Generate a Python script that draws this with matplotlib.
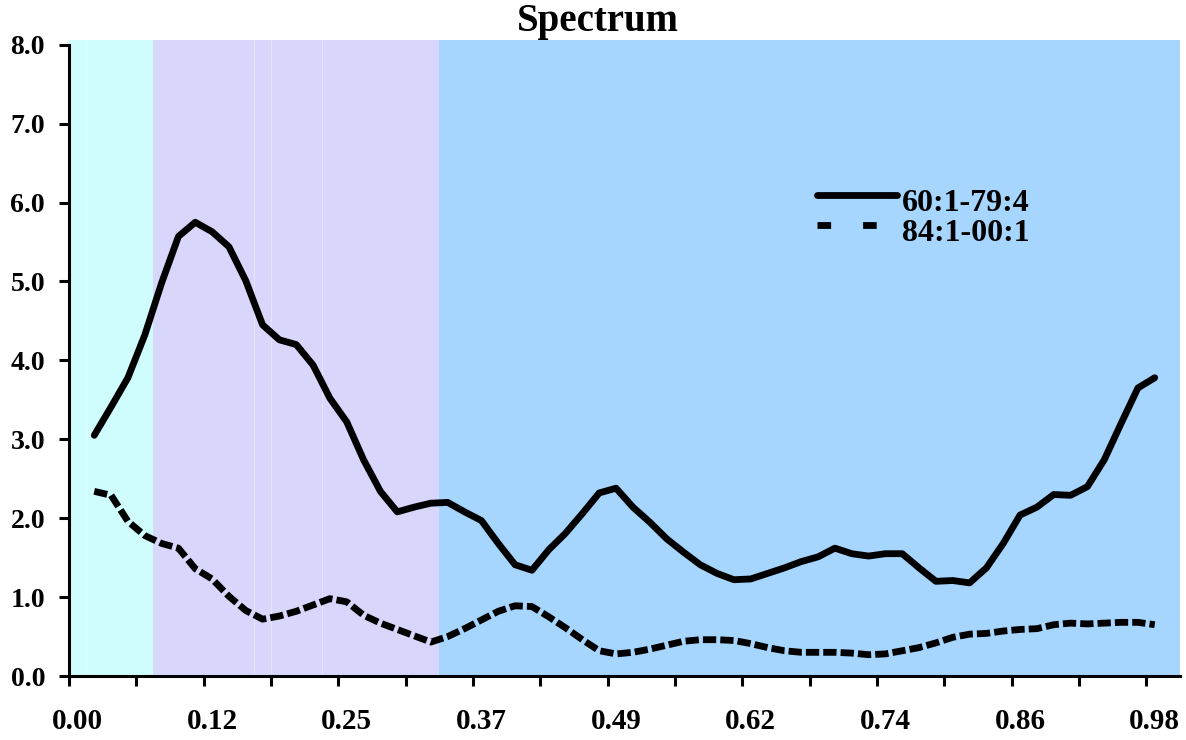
import matplotlib
matplotlib.use("Agg")
import numpy as np
import matplotlib.pyplot as plt
from matplotlib.lines import Line2D

# categories 0..65 on the axis, data present for 1..64
n_cats = 66
cats = list(range(1, 65))

series_a = [3.05, 3.41, 3.78, 4.32, 4.98, 5.57, 5.75, 5.63, 5.44, 5.01,
            4.45, 4.26, 4.20, 3.94, 3.52, 3.22, 2.74, 2.34, 2.08, 2.14,
            2.19, 2.20, 2.08, 1.97, 1.68, 1.41, 1.34, 1.60, 1.81, 2.06,
            2.32, 2.38, 2.14, 1.95, 1.74, 1.57, 1.41, 1.30, 1.22, 1.23,
            1.30, 1.37, 1.45, 1.51, 1.62, 1.55, 1.52, 1.55, 1.55, 1.37,
            1.20, 1.21, 1.18, 1.37, 1.68, 2.04, 2.14, 2.30, 2.29, 2.40,
            2.74, 3.20, 3.65, 3.78]
series_b = [2.34, 2.29, 1.96, 1.78, 1.68, 1.62, 1.36, 1.23, 1.01, 0.83,
            0.72, 0.76, 0.82, 0.90, 0.98, 0.94, 0.77, 0.67, 0.59, 0.51,
            0.43, 0.50, 0.60, 0.71, 0.82, 0.89, 0.88, 0.75, 0.61, 0.46,
            0.32, 0.28, 0.30, 0.34, 0.39, 0.44, 0.46, 0.46, 0.45, 0.41,
            0.36, 0.32, 0.30, 0.30, 0.30, 0.29, 0.27, 0.28, 0.32, 0.36,
            0.42, 0.49, 0.53, 0.54, 0.57, 0.59, 0.60, 0.65, 0.67, 0.66,
            0.67, 0.68, 0.68, 0.65]
names = ["60:1-79:4", "84:1-00:1"]

# background bands (category ranges)
band_start = [0, 5, 22]
band_end = [5, 22, 66]
band_colors = ["#CFFCFC", "#D8D6FB", "#A6D5FE"]
# faint light seams between some background cells
seam_cats = [1, 11, 12, 15]

label_cats = [0, 8, 16, 24, 32, 40, 48, 56, 64]
label_text = ["0.00", "0.12", "0.25", "0.37", "0.49", "0.62", "0.74", "0.86", "0.98"]
y_ticks = [0, 1, 2, 3, 4, 5, 6, 7, 8]

font = "Liberation Serif"

fig = plt.figure(figsize=(11.86, 7.4), dpi=100)
ax = fig.add_axes([69 / 1186, 64 / 740, 1111 / 1186, 636 / 740])

for s, e, c in zip(band_start, band_end, band_colors):
    ax.axvspan(s - 0.5, e - 0.5, color=c, lw=0, zorder=0)
for c in seam_cats:
    ax.axvline(c - 0.5, color="white", lw=0.8, alpha=0.35, zorder=1)

ax.plot(cats, series_a, color="black", lw=4.9, solid_capstyle="round",
        solid_joinstyle="round", zorder=3)
ax.plot(cats, series_b, color="black", lw=4.9, dashes=(1.95, 0.6),
        dash_capstyle="butt", zorder=3)

ax.set_xlim(-0.5, n_cats - 0.5)
ax.set_ylim(0, 8.06)

ax.spines["top"].set_visible(False)
ax.spines["right"].set_visible(False)
ax.spines["left"].set_linewidth(2.2)
ax.spines["bottom"].set_linewidth(2.2)
ax.spines["left"].set_bounds(0, 8)

ax.set_yticks(y_ticks)
ax.set_yticklabels(["%.1f" % v for v in y_ticks], fontfamily=font,
                   fontweight="bold", fontsize=20)
ax.tick_params(axis="y", direction="out", length=7.2, width=2.2, pad=10)

ax.set_xticks([c - 0.5 for c in range(0, 65, 4)])
ax.set_xticklabels([])
ax.set_xticks(label_cats, minor=True)
ax.set_xticklabels(label_text, minor=True, fontfamily=font,
                   fontweight="bold", fontsize=21)
ax.tick_params(axis="x", which="major", direction="out", length=7.2, width=2.2)
ax.tick_params(axis="x", which="minor", length=0, pad=23)

fig.text(598 / 1186, 1 - 22 / 740, "Spectrum", ha="center", va="center",
         fontfamily=font, fontweight="bold", fontsize=28)

handles = [Line2D([], [], color="black", lw=4.9, solid_capstyle="round"),
           Line2D([], [], color="black", lw=4.9, dashes=(2.0, 4.7),
                  dash_capstyle="butt")]
leg = ax.legend(handles, names, loc="upper left",
                bbox_to_anchor=(817 / 1186, 1 - 189 / 740),
                bbox_transform=fig.transFigure, frameon=False,
                prop={"family": font, "weight": "bold", "size": 23},
                handlelength=2.5, handletextpad=0.15, labelspacing=0.0,
                borderpad=0, borderaxespad=0)
# legend samples sit a little above the text middle, as in the original
for ln in leg.get_lines():
    ln.set_ydata(np.asarray(ln.get_ydata()) + 3.6)

fig.savefig("out.png", dpi=100)
